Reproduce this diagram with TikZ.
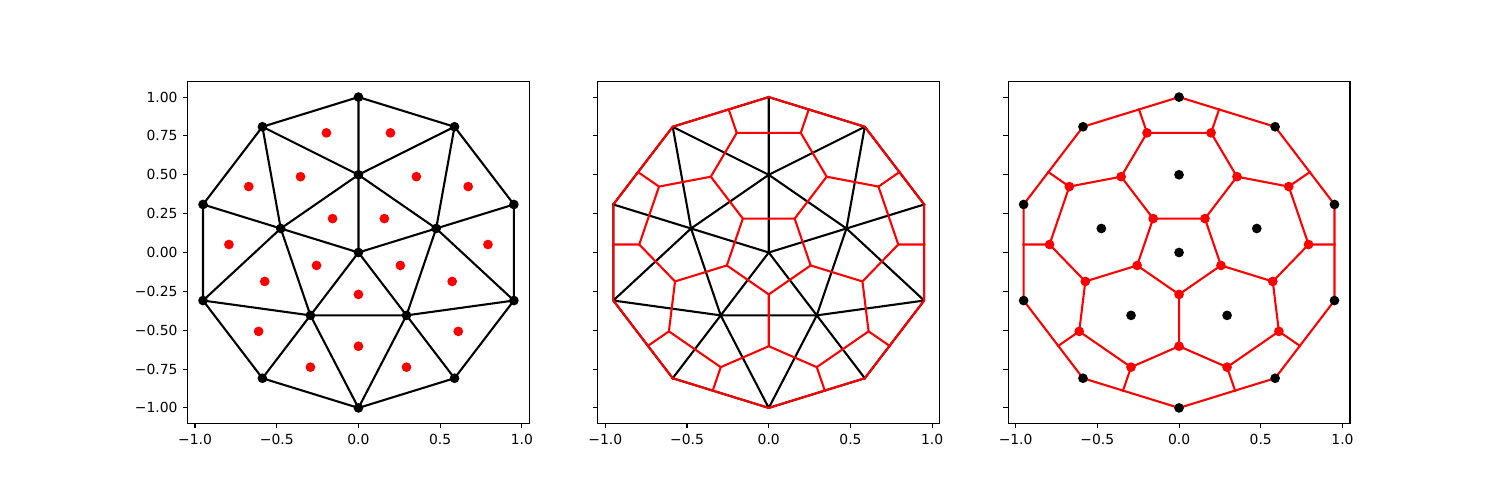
\documentclass[tikz,border=0pt]{standalone}
\usepackage{fontspec}
\setmainfont{DejaVu Sans}
\usetikzlibrary{calc}
\tikzset{
  kline/.style={black,line width=1.5bp,line join=round,line cap=rect},
  rline/.style={red,line width=1.5bp,line join=round,line cap=rect},
  spine/.style={black,line width=0.8bp,line join=miter},
  tickmark/.style={black,line width=0.8bp},
  ticklab/.style={inner sep=0pt,font=\fontsize{10bp}{12bp}\selectfont},
  vdot/.style={fill=black},
  cdot/.style={fill=red},
}
% data-space points of the triangulation and of its dual
\newcommand\mkpts{%
  \coordinate (C) at (0,0);
  \foreach \k in {0,...,12}{\coordinate (O\k) at ({cos(90+36*\k)},{sin(90+36*\k)});}%
  \foreach \k in {0,...,6}{\coordinate (I\k) at ({0.5*cos(90+72*\k)},{0.5*sin(90+72*\k)});}%
  \foreach \j in {0,...,5}{%
    \coordinate (A\j) at ({0.794218*cos(104.282+72*\j)},{0.794218*sin(104.282+72*\j)});
    \coordinate (B\j) at ({0.603005*cos(126+72*\j)},{0.603005*sin(126+72*\j)});
    \coordinate (D\j) at ({0.794218*cos(147.718+72*\j)},{0.794218*sin(147.718+72*\j)});
    \coordinate (E\j) at ({0.269672*cos(126+72*\j)},{0.269672*sin(126+72*\j)});
    \coordinate (FA\j) at ({0.953451*cos(104.903+72*\j)},{0.953451*sin(104.903+72*\j)});
    \coordinate (FD\j) at ({0.953451*cos(147.097+72*\j)},{0.953451*sin(147.097+72*\j)});
  }%
}
\newcommand\kedges{%
  \foreach \j in {0,...,4}{%
    \pgfmathtruncatemacro\pa{2*\j}\pgfmathtruncatemacro\pb{2*\j+1}%
    \pgfmathtruncatemacro\pc{2*\j+2}\pgfmathtruncatemacro\pn{\j+1}%
    \draw[kline] (O\pa) -- (O\pb) -- (O\pc) (O\pa) -- (I\j) -- (O\pb) -- (I\pn) -- (I\j) -- (C);
  }%
}
\newcommand\redges{%
  \foreach \j in {0,...,4}{%
    \pgfmathtruncatemacro\pn{\j+1}%
    \draw[rline] (FA\j) -- (A\j) -- (B\j) -- (D\j) -- (A\pn) (B\j) -- (E\j) -- (E\pn) (D\j) -- (FD\j);
  }%
  \draw[rline] (O0) \foreach \k in {1,...,9}{-- (O\k)} -- cycle;
}
\newcommand\kdots{%
  \fill[vdot] (C) circle[radius=3.5bp];
  \foreach \k in {0,...,9}{\fill[vdot] (O\k) circle[radius=3.5bp];}%
  \foreach \k in {0,...,4}{\fill[vdot] (I\k) circle[radius=3.5bp];}%
}
\newcommand\rdots{%
  \foreach \j in {0,...,4}{\fill[cdot] (A\j) circle[radius=3.5bp] (B\j) circle[radius=3.5bp] (D\j) circle[radius=3.5bp] (E\j) circle[radius=3.5bp];}%
}
\newcommand\axframe[1]{%
  \draw[spine] (-1.046163,-1.1) rectangle (1.046163,1.1);
  \foreach \v/\t [count=\i] in {-1/−1.0,-0.5/−0.5,0/0.0,0.5/0.5,1/1.0}{%
    \draw[tickmark] (\v,-1.1) -- ++(0,-3.5bp);
    \node[ticklab,anchor=north] (#1x\i) at ($(\v,-1.1)+(0,-7.8bp)$) {\t};
  }%
  \foreach \v in {-1,-0.75,-0.5,-0.25,0,0.25,0.5,0.75,1}{%
    \draw[tickmark] (-1.046163,\v) -- ++(-3.5bp,0);
  }%
}
\begin{document}
\begin{tikzpicture}[x=1bp,y=1bp]
\useasboundingbox (0,0) rectangle (1080,360);
% ---------- left axes ----------
\begin{scope}[shift={(258.088,178.2)},x=117.664bp,y=111.898bp]
  \mkpts
  \kedges
  \kdots
  \rdots
  \axframe{a}
  \foreach \v/\t [count=\i] in {1/1.00,0.75/0.75,0.5/0.50,0.25/0.25,0/0.00,-0.25/−0.25,-0.5/−0.50,-0.75/−0.75,-1/−1.00}{%
    \node[ticklab,anchor=east] (ay\i) at ($(-1.046163,\v)+(-7bp,0)$) {\t};
  }
\end{scope}
% ---------- middle axes ----------
\begin{scope}[shift={(553.496,178.2)},x=117.664bp,y=111.898bp]
  \mkpts
  \kedges
  \redges
  \axframe{b}
\end{scope}
% ---------- right axes ----------
\begin{scope}[shift={(848.912,178.2)},x=117.664bp,y=111.898bp]
  \mkpts
  \redges
  \kdots
  \rdots
  \axframe{c}
\end{scope}
\end{tikzpicture}
\end{document}
